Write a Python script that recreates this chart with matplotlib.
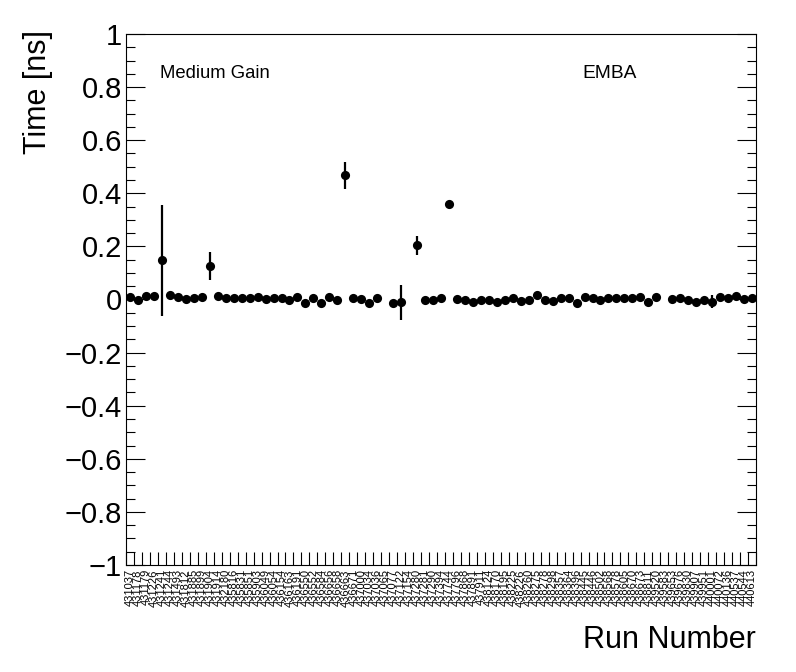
"""
Time offset per run (Medium Gain, EMBA), ROOT-style marker plot.
Output: out.png
"""

import numpy as np
import matplotlib
matplotlib.use("Agg")
import matplotlib.pyplot as plt
from matplotlib.ticker import FixedLocator, FuncFormatter, MultipleLocator

plt.rcParams["font.family"] = ["Liberation Sans", "DejaVu Sans"]

run_numbers = [
    "431037", "431178", "431179", "431226", "431241", "431244", "431493", "431812",
    "431885", "431899", "431904", "431914", "432180", "435816", "435831", "435851",
    "435903", "436049", "436054", "436154", "436163", "436191", "436550", "436552",
    "436584", "436656", "436658", "436663", "436671", "437000", "437034", "437036",
    "437065", "437077", "437122", "437154", "437280", "437281", "437290", "437394",
    "437744", "437796", "437868", "437891", "437911", "438124", "438170", "438195",
    "438225", "438226", "438260", "438275", "438278", "438298", "438357", "438364",
    "438396", "438445", "438446", "438502", "438568", "438578", "438605", "438670",
    "438673", "438811", "439520", "439583", "439653", "439676", "439830", "439907",
    "439951", "440001", "440072", "440136", "440537", "440544", "440613",
]

nan = np.nan
time_offset = [
    0.008, -0.001, 0.014, 0.014, 0.147, 0.018, 0.011, 0.003, 0.005, 0.011,
    0.127, 0.015, 0.006, 0.007, 0.004, 0.004, 0.011, 0.003, 0.004, 0.007,
    -0.002, 0.009, -0.014, 0.004, -0.014, 0.009, -0.001, 0.468, 0.004, 0.002,
    -0.014, 0.005, nan, -0.013, -0.011, nan, 0.204, 0.000, 0.000, 0.005,
    0.361, 0.003, 0.000, -0.010, 0.000, -0.003, -0.010, 0.000, 0.005, -0.004,
    -0.003, 0.018, -0.003, -0.004, 0.005, 0.005, -0.012, 0.009, 0.004, 0.000,
    0.005, 0.005, 0.005, 0.005, 0.009, -0.010, 0.011, nan, 0.002, 0.005,
    -0.003, -0.008, -0.003, -0.008, 0.009, 0.005, 0.014, 0.003, 0.005,
]

time_error = [
    0.005, 0.005, 0.005, 0.005, 0.210, 0.005, 0.005, 0.005, 0.005, 0.005,
    0.052, 0.005, 0.005, 0.005, 0.005, 0.005, 0.005, 0.005, 0.005, 0.005,
    0.005, 0.005, 0.005, 0.005, 0.005, 0.005, 0.005, 0.050, 0.005, 0.005,
    0.005, 0.005, nan, 0.005, 0.067, nan, 0.037, 0.005, 0.005, 0.005,
    0.006, 0.005, 0.005, 0.005, 0.005, 0.005, 0.005, 0.005, 0.005, 0.005,
    0.005, 0.005, 0.005, 0.005, 0.005, 0.005, 0.005, 0.005, 0.005, 0.005,
    0.005, 0.005, 0.005, 0.005, 0.005, 0.005, 0.005, nan, 0.005, 0.005,
    0.005, 0.005, 0.005, 0.025, 0.005, 0.005, 0.005, 0.005, 0.005,
]


def main():
    n = len(run_numbers)
    x = np.arange(n) + 0.5
    y = np.array(time_offset)
    err = np.array(time_error)

    fig = plt.figure(figsize=(7.96, 6.72), dpi=100)
    ax = fig.add_axes([126 / 796, 1 - 565 / 672, 630 / 796, 531 / 672])

    ax.errorbar(x, y, yerr=err, fmt="o", color="black", markersize=6.6,
                elinewidth=1.6, capsize=0, markeredgewidth=0)

    ax.set_xlim(0, n)
    ax.set_ylim(-1, 1)

    # x: labels at bin centres, tick marks at bin edges
    ax.xaxis.set_major_locator(FixedLocator(x))
    ax.set_xticklabels(run_numbers, rotation=90, fontsize=8)
    ax.xaxis.set_minor_locator(FixedLocator(np.arange(n + 1)))
    ax.tick_params(axis="x", which="major", length=0, pad=3)
    ax.tick_params(axis="x", which="minor", direction="in", length=9.5, width=0.8)

    # y: ROOT-like inward ticks on both sides
    ax.yaxis.set_major_locator(MultipleLocator(0.2))
    ax.yaxis.set_minor_locator(MultipleLocator(0.05))
    ax.yaxis.set_major_formatter(FuncFormatter(
        lambda v, _: f"{v:.1f}".rstrip("0").rstrip(".").replace("-", "\u2212")
        if abs(v) > 1e-9 else "0"))
    ax.tick_params(axis="y", which="major", direction="in", length=13.7,
                   width=0.8, labelsize=21, pad=3, right=True)
    ax.tick_params(axis="y", which="minor", direction="in", length=6.8,
                   width=0.8, right=True)

    for s in ax.spines.values():
        s.set_linewidth(0.8)

    fig.text(38 / 796, 1 - 30 / 672, "Time [ns]", rotation=90, fontsize=22,
             ha="center", va="top")
    fig.text(756 / 796, 1 - 640 / 672, "Run Number", fontsize=22,
             ha="right", va="center")
    ax.text(160 / 796, 1 - 73 / 672, "Medium Gain", transform=fig.transFigure,
            fontsize=13.3, ha="left", va="center")
    ax.text(582 / 796, 1 - 73 / 672, "EMBA", transform=fig.transFigure,
            fontsize=13.8, ha="left", va="center")

    fig.savefig("out.png", dpi=100)
    plt.close(fig)


if __name__ == "__main__":
    main()
